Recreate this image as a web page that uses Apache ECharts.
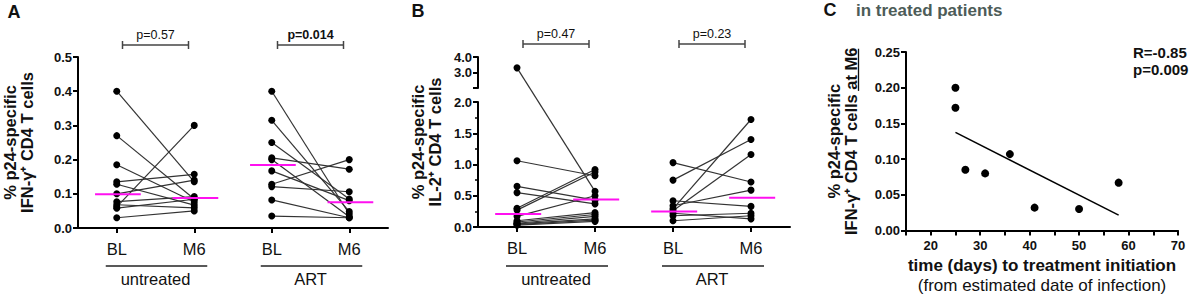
<!DOCTYPE html>
<html>
<head>
<meta charset="utf-8">
<title>p24-specific CD4 T cells</title>
<script src="https://cdn.jsdelivr.net/npm/echarts@6.0.0/dist/echarts.min.js"></script>
<style>
  html, body { margin: 0; padding: 0; background: #fff; }
  #chart { width: 1192px; height: 299px; }
</style>
</head>
<body>
<div id="chart"></div>
<script>
// categories
var timepoints = ['BL', 'M6', 'BL', 'M6']
var groups = ['untreated', 'ART']

// panel A - IFN-γ+ cells, paired BL -> M6
var aUntreatedBL = [0.400, 0.270, 0.185, 0.135, 0.128, 0.100, 0.077, 0.068, 0.062, 0.058, 0.030]
var aUntreatedM6 = [0.135, 0.085, 0.076, 0.157, 0.067, 0.140, 0.092, 0.059, 0.300, 0.084, 0.050]
var aArtBL = [0.400, 0.315, 0.250, 0.205, 0.200, 0.167, 0.128, 0.121, 0.082, 0.035]
var aArtM6 = [0.041, 0.048, 0.085, 0.172, 0.033, 0.080, 0.200, 0.106, 0.030, 0.030]
var aMedians = [0.099, 0.088, 0.184, 0.075]
var aPvalues = ['p=0.57', 'p=0.014']
var aYTicks = [0, 0.5, 0.1]

// panel B - IL-2+ cells, paired BL -> M6 (broken axis above 2)
var bUntreatedBL = [3.30, 1.06, 0.65, 0.55, 0.30, 0.27, 0.17, 0.10, 0.08, 0.06, 0.05, 0.04, 0.03]
var bUntreatedM6 = [0.57, 0.82, 0.43, 0.37, 0.92, 0.88, 0.50, 0.23, 0.20, 0.17, 0.13, 0.11, 0.09]
var bArtBL = [1.03, 0.75, 0.42, 0.34, 0.29, 0.26, 0.22, 0.18, 0.10]
var bArtM6 = [0.72, 1.40, 0.33, 0.59, 1.72, 1.16, 0.13, 0.22, 0.18]
var bMedians = [0.21, 0.44, 0.25, 0.47]
var bPvalues = ['p=0.47', 'p=0.23']
var bLowTicks = [0, 2, 0.5]
var bHighTicks = [2, 4, 1]

// panel C - treated patients at M6
var cDays = [25, 25, 27, 31, 36, 41, 50, 58]
var cIfng = [0.200, 0.172, 0.085, 0.080, 0.107, 0.032, 0.030, 0.067]
var cStats = ['R=-0.85', 'p=0.009']
var cXTicks = [15, 70, 5]
var cYTicks = [0, 0.25, 0.05]

var FONT = '"Liberation Sans", Arial, Helvetica, sans-serif'
var INK = '#111'

// grids (px)
var gA = { left: 77, top: 57, width: 311, height: 171 }
var gB = { left: 478, top: 57, width: 312, height: 170 }
var bLowPx = 125, bGapPx = 14, bUpPx = 31
var gC = { left: 906, top: 52, width: 272, height: 181 }

// piecewise scale for the broken IL-2 axis (lower part 0-2, compressed 2-4 above a gap)
function bScale(v) {
  if (v <= 2) return v
  return 2 + (bGapPx + (v - 2) / 2 * bUpPx) / (bLowPx / 2)
}
var same = function (v) { return v }

function axisStyle() {
  return {
    axisLine: { show: true, onZero: false, lineStyle: { color: '#000', width: 2 } },
    axisTick: { show: true, length: 5, lineStyle: { color: '#000', width: 2 } },
    splitLine: { show: false }
  }
}

function tickLabel(digits, skip) {
  return {
    fontFamily: FONT, fontSize: 13, fontWeight: 'bold', color: INK, margin: 6,
    showMinLabel: true, showMaxLabel: true,
    formatter: function (v) {
      if (skip && skip(v)) return ''
      return v.toFixed(digits)
    }
  }
}

function catAxis(grid) {
  var ax = axisStyle()
  return Object.assign(ax, {
    type: 'category', gridIndex: grid, data: timepoints, boundaryGap: true,
    axisTick: { show: true, alignWithLabel: true, length: 5, lineStyle: { color: '#000', width: 2 } },
    axisLabel: { fontFamily: FONT, fontSize: 16.5, color: INK, margin: 12 }
  })
}

function hiddenX(grid) {
  return { type: 'value', gridIndex: grid, min: -0.5, max: 3.5, show: false }
}

function yName(text, gap) {
  return {
    name: text, nameLocation: 'middle', nameRotate: 90, nameGap: gap, nameMoveOverlap: false,
    nameTextStyle: { fontFamily: FONT, fontSize: 16.5, fontWeight: 'bold', color: INK, lineHeight: 17 }
  }
}

function pairSeries(bl, m6, offset, xIdx, yIdx, scale) {
  return bl.map(function (v, i) {
    return {
      type: 'line', xAxisIndex: xIdx, yAxisIndex: yIdx, silent: true, z: 3,
      data: [[offset, scale(v)], [offset + 1, scale(m6[i])]],
      symbol: 'circle', symbolSize: 7,
      lineStyle: { color: '#333', width: 1.2 },
      itemStyle: { color: '#000', opacity: 1 }
    }
  })
}

function medianSeries(meds, xIdx, yIdx, scale) {
  return meds.map(function (m, i) {
    return {
      type: 'line', xAxisIndex: xIdx, yAxisIndex: yIdx, silent: true, z: 4,
      data: [[i - 0.28, scale(m)], [i + 0.31, scale(m)]],
      symbol: 'none',
      lineStyle: { color: '#ff10f0', width: 2 }
    }
  })
}

// least squares fit for panel C
function fitLine(xs, ys) {
  var n = xs.length, mx = 0, my = 0
  for (var i = 0; i < n; i++) { mx += xs[i] / n; my += ys[i] / n }
  var sxy = 0, sxx = 0
  for (var j = 0; j < n; j++) {
    sxy += (xs[j] - mx) * (ys[j] - my)
    sxx += (xs[j] - mx) * (xs[j] - mx)
  }
  var slope = sxy / sxx
  var x0 = Math.min.apply(null, xs), x1 = Math.max.apply(null, xs)
  return [[x0, my + slope * (x0 - mx)], [x1, my + slope * (x1 - mx)]]
}

var series = []
  .concat(pairSeries(aUntreatedBL, aUntreatedM6, 0, 1, 0, same))
  .concat(pairSeries(aArtBL, aArtM6, 2, 1, 0, same))
  .concat(medianSeries(aMedians, 1, 0, same))
  .concat(pairSeries(bUntreatedBL, bUntreatedM6, 0, 4, 3, bScale))
  .concat(pairSeries(bArtBL, bArtM6, 2, 4, 3, bScale))
  .concat(medianSeries(bMedians, 4, 3, bScale))
series.push({
  type: 'line', xAxisIndex: 5, yAxisIndex: 4, silent: true, z: 3,
  data: fitLine(cDays, cIfng), symbol: 'none',
  lineStyle: { color: '#000', width: 1.5 }
})
series.push({
  type: 'scatter', xAxisIndex: 5, yAxisIndex: 4, silent: true, z: 4,
  data: cDays.map(function (d, i) { return [d, cIfng[i]] }),
  symbolSize: 8, itemStyle: { color: '#000', opacity: 1 }
})

var option = {
  animation: false,
  backgroundColor: '#fff',
  grid: [
    Object.assign({}, gA),
    { left: gB.left, top: gB.top + gB.height - bLowPx, width: gB.width, height: bLowPx },
    { left: gB.left, top: gB.top, width: gB.width, height: bUpPx },
    Object.assign({}, gB),
    Object.assign({}, gC)
  ],
  xAxis: [
    catAxis(0),
    hiddenX(0),
    catAxis(1),
    { type: 'value', gridIndex: 2, show: false, min: 0, max: 1 },
    hiddenX(3),
    Object.assign(axisStyle(), {
      type: 'value', gridIndex: 4, min: cXTicks[0], max: cXTicks[1], interval: cXTicks[2],
      axisLabel: Object.assign(tickLabel(0, function (v) { return v % 10 !== 0 }), { margin: 8 }),
      name: '{t|time (days) to treatment initiation}\n{s|(from estimated date of infection)}',
      nameLocation: 'middle', nameGap: 25, nameMoveOverlap: false,
      nameTextStyle: {
        rich: {
          t: { fontFamily: FONT, fontSize: 17, fontWeight: 'bold', color: INK, lineHeight: 20 },
          s: { fontFamily: FONT, fontSize: 17, color: INK, lineHeight: 20 }
        }
      }
    })
  ],
  yAxis: [
    Object.assign(axisStyle(), yName('% p24-specific\nIFN-γ⁺ CD4 T cells', 43), {
      type: 'value', gridIndex: 0, min: aYTicks[0], max: aYTicks[1], interval: aYTicks[2],
      axisLabel: tickLabel(1)
    }),
    Object.assign(axisStyle(), {
      type: 'value', gridIndex: 1, min: bLowTicks[0], max: bLowTicks[1], interval: bLowTicks[2],
      axisLabel: tickLabel(1),
      minorTick: { show: true, splitNumber: 2, length: 3, lineStyle: { color: '#000', width: 1.5 } }
    }),
    Object.assign(axisStyle(), {
      type: 'value', gridIndex: 2, min: bHighTicks[0], max: bHighTicks[1], interval: bHighTicks[2],
      axisLabel: tickLabel(1, function (v) { return v === 2 })
    }),
    Object.assign(yName('% p24-specific\nIL-2⁺ CD4 T cells', 35), {
      type: 'value', gridIndex: 3, min: 0, max: bScale(4),
      axisLine: { show: false, onZero: false }, axisTick: { show: false }, axisLabel: { show: false },
      splitLine: { show: false }
    }),
    Object.assign(axisStyle(), yName('% p24-specific\nIFN-γ⁺ CD4 T cells at M6', 47), {
      type: 'value', gridIndex: 4, min: cYTicks[0], max: cYTicks[1], interval: cYTicks[2],
      axisLabel: tickLabel(2)
    })
  ],
  series: series
}

var chart = echarts.init(document.getElementById('chart'), null, { renderer: 'svg' })
chart.setOption(option)

// annotations placed from the axes' own pixel mapping
function px(xAxisIndex, v) { return chart.convertToPixel({ xAxisIndex: xAxisIndex }, v) }

function txt(text, x, y, size, weight, align, color) {
  return {
    type: 'text', x: x, y: y, silent: true,
    style: {
      text: text, fontFamily: FONT, fontSize: size, fontWeight: weight || 'normal',
      fill: color || INK, align: align || 'center', verticalAlign: 'middle'
    }
  }
}

function line(x1, y1, x2, y2, w, color) {
  return {
    type: 'line', silent: true,
    shape: { x1: x1, y1: y1, x2: x2, y2: y2 },
    style: { stroke: color || '#222', lineWidth: w || 1.3 }
  }
}

function groupMarks(xIdx, pvals, boldIdx, bracketY) {
  var out = []
  groups.forEach(function (g, gi) {
    var x0 = px(xIdx, gi * 2), x1 = px(xIdx, gi * 2 + 1)
    var mid = (x0 + x1) / 2
    out.push(line(x0 - 11, 266, x1 + 13, 266, 1.3))
    out.push(txt(g, mid, 279, 16.5))
    out.push(line(mid - 33, bracketY, mid + 33, bracketY, 1.5, '#444'))
    out.push(line(mid - 33, bracketY - 4, mid - 33, bracketY + 4, 1.5, '#444'))
    out.push(line(mid + 33, bracketY - 4, mid + 33, bracketY + 4, 1.5, '#444'))
    out.push(txt(pvals[gi], mid, bracketY - 10, 12.5, gi === boldIdx ? 'bold' : 'normal'))
  })
  return out
}

// underline of "at M6" in the rotated panel C title
var ctx = document.createElement('canvas').getContext('2d')
ctx.font = 'bold 16.5px ' + FONT
var w2 = ctx.measureText('IFN-γ⁺ CD4 T cells at M6').width
var wAt = ctx.measureText('at M6').width
var cMid = gC.top + gC.height / 2
var ulX = gC.left - 47 - 0.5
var ulTop = cMid - w2 / 2

var graphics = []
  .concat(groupMarks(1, aPvalues, 1, 45))
  .concat(groupMarks(4, bPvalues, -1, 44))
  .concat([
    txt('A', 14, 12, 18, 'bold'),
    txt('B', 418, 11, 18, 'bold'),
    txt('C', 830, 10, 18, 'bold'),
    txt('in treated patients', 856, 10, 17, 'bold', 'left', '#4d5c58'),
    txt(cStats[0], 1133, 52, 15, 'bold', 'left'),
    txt(cStats[1], 1133, 69, 15, 'bold', 'left'),
    line(ulX, ulTop, ulX, ulTop + wAt, 1.3, INK)
  ])

chart.setOption({ graphic: graphics })
</script>
</body>
</html>
